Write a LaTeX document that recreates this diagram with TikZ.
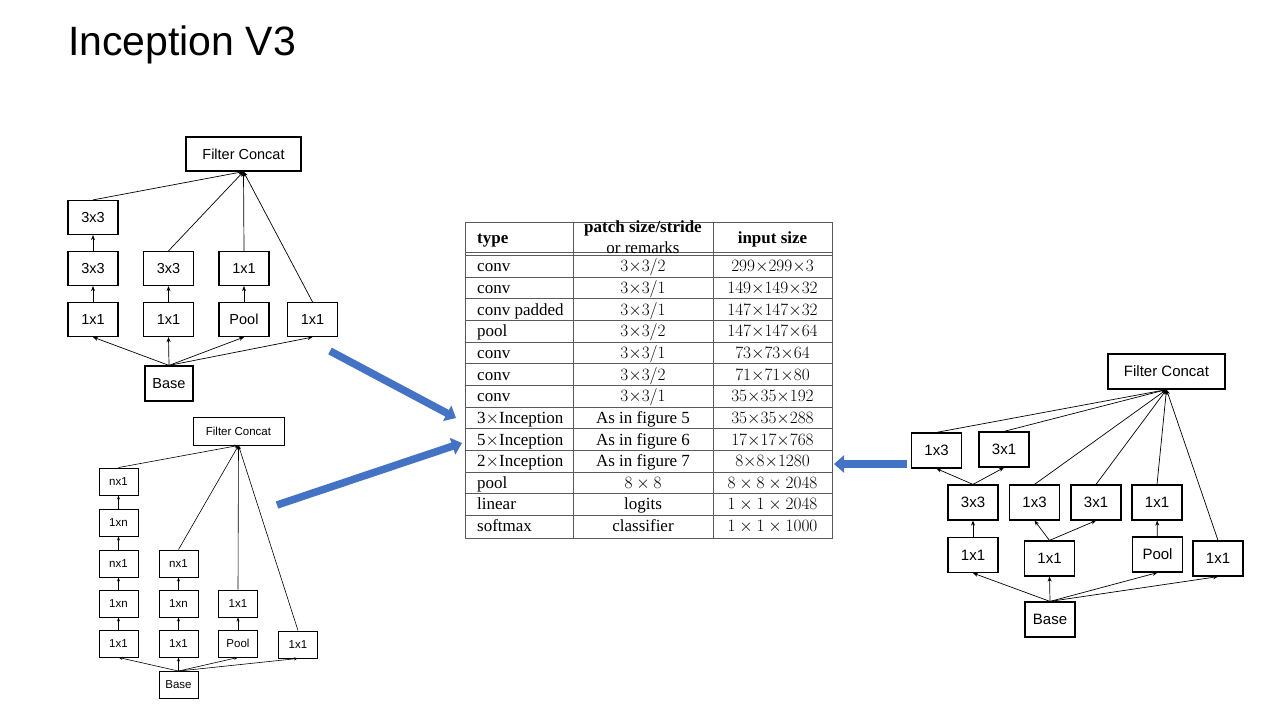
\documentclass[tikz,border=0pt]{standalone}
\usepackage{fontspec}
\setmainfont{Liberation Serif}
\setsansfont{Liberation Sans}
\usetikzlibrary{arrows.meta,positioning,calc}
\definecolor{slideblue}{HTML}{4472C4}
\definecolor{rulegray}{HTML}{5A5A5A}
\tikzset{unit/.style={draw,line width=1.2pt,fill=white,font=\sffamily\fontsize{14.5}{16}\selectfont,inner sep=0pt,minimum width=50,minimum height=34},unitsm/.style={unit,line width=0.9pt,font=\sffamily\fontsize{11.5}{13}\selectfont,minimum width=39,minimum height=27},link/.style={-{Stealth[length=5pt,width=4pt]},line width=0.7pt},linksm/.style={-{Stealth[length=4pt,width=3pt]},line width=0.6pt},bigarrow/.style={-{Triangle[length=10pt,width=17pt]},line width=7.5pt,draw=slideblue},cell/.style={font=\fontsize{17}{19}\selectfont,inner sep=0pt,text height=11.5pt,text depth=3.5pt},tabline/.style={draw=rulegray,line width=0.8pt}}

\begin{document}
\begin{tikzpicture}[x=1pt,y=-1pt]
\useasboundingbox[fill=white] (0,0) rectangle (1280,720);
\node[font=\sffamily\fontsize{41}{44}\selectfont,anchor=base west,inner sep=0pt] (title) at (68,55) {Inception V3};
% module of figure 5
\node[unit,minimum width=115] (Lfc) at (243.5,154) {Filter Concat};
\foreach \n/\xx/\yy/\lbl in {a3/93/217.5/3x3,a2/93/268.5/3x3,a1/93/319.5/1x1,b2/168.5/268.5/3x3,b1/168.5/319.5/1x1,c2/244/268.5/1x1,c1/244/319.5/Pool,d1/312.5/319.5/1x1}{\node[unit] (L\n) at (\xx,\yy) {\lbl};}
\node[unit,minimum width=48,minimum height=35] (Lbase) at (169,383.5) {Base};
\foreach \t in {a1,b1,c1,d1}{\draw[link] (Lbase.north) -- (L\t.south);}
\foreach \s/\t in {a1/a2,a2/a3,b1/b2,c1/c2}{\draw[link] (L\s) -- (L\t);}
\foreach \s in {a3,b2,c2,d1}{\draw[link] (L\s.north) -- (Lfc.south);}
% module of figure 6
\node[unitsm,minimum width=91,minimum height=28] (Mfc) at (238.5,431) {Filter Concat};
\foreach \n/\xx/\yy/\lbl in {p5/118.5/481.5/nx1,p4/118.5/522.5/1xn,p3/118.5/563.5/nx1,p2/118.5/603.5/1xn,p1/118.5/643.5/1x1,q3/178.5/563.5/nx1,q2/178.5/603.5/1xn,q1/178.5/643.5/1x1,r2/238/603.5/1x1,r1/238/643.5/Pool,s1/298/644.5/1x1}{\node[unitsm] (M\n) at (\xx,\yy) {\lbl};}
\node[unitsm] (Mbase) at (178.5,685) {Base};
\foreach \t in {p1,q1,r1,s1}{\draw[linksm] (Mbase.north) -- (M\t.south);}
\foreach \s/\t in {p1/p2,p2/p3,p3/p4,p4/p5,q1/q2,q2/q3,r1/r2}{\draw[linksm] (M\s) -- (M\t);}
\foreach \s in {p5,q3,r2,s1}{\draw[linksm] (M\s.north) -- (Mfc.south);}
% module of figure 7
\node[unit,minimum width=117,minimum height=35,font=\sffamily\fontsize{15}{17}\selectfont] (Rfc) at (1166.5,371.5) {Filter Concat};
\foreach \n/\xx/\yy/\lbl in {e1/936.5/450.5/1x3,e2/1004/449.5/3x1,m1/973/502.5/3x3,m2/1034.5/502.5/1x3,m3/1096/502.5/3x1,m4/1157/502.5/1x1,k1/973/555/1x1,k2/1049.5/558.5/1x1,k3/1157.5/554.5/Pool,k4/1218/558.5/1x1}{\node[unit,minimum height=35,font=\sffamily\fontsize{15}{17}\selectfont] (R\n) at (\xx,\yy) {\lbl};}
\node[unit,minimum height=35,font=\sffamily\fontsize{15}{17}\selectfont] (Rbase) at (1050,619.5) {Base};
\foreach \t in {k1,k2,k3,k4}{\draw[link] (Rbase.north) -- (R\t.south);}
\foreach \s/\t in {k1/m1,k3/m4}{\draw[link] (R\s) -- (R\t);}
\foreach \s/\t in {m1/e1,m1/e2,k2/m2,k2/m3}{\draw[link] (R\s.north) -- (R\t.south);}
\foreach \s in {e1,e2,m2,m3,m4,k4}{\draw[link] (R\s.north) -- (Rfc.south);}
% table
\draw[tabline] (465,222) rectangle (832,538);
\draw[tabline] (465,252.5) -- (832,252.5) (465,255.5) -- (832,255.5);
\foreach \i in {1,...,12}{\draw[tabline] (465,{255.5+21.65*\i}) -- (832,{255.5+21.65*\i});}
\draw[tabline] (573,222) -- (573,538) (713,222) -- (713,538);
\node[cell,anchor=west,font=\fontsize{17}{19}\selectfont\bfseries] (htype) at (477,239) {type};
\node[cell,font=\fontsize{17}{19}\selectfont\bfseries] (hpatch) at (643,228) {patch size/stride};
\node[cell] (hremark) at (643,249) {or remarks};
\node[cell,font=\fontsize{17}{19}\selectfont\bfseries] (hinput) at (772.5,239) {input size};
\foreach \typ/\pat/\inp [count=\i] in {conv/{$3{\times}3/2$}/{$299{\times}299{\times}3$},conv/{$3{\times}3/1$}/{$149{\times}149{\times}32$},conv padded/{$3{\times}3/1$}/{$147{\times}147{\times}32$},pool/{$3{\times}3/2$}/{$147{\times}147{\times}64$},conv/{$3{\times}3/1$}/{$73{\times}73{\times}64$},conv/{$3{\times}3/2$}/{$71{\times}71{\times}80$},conv/{$3{\times}3/1$}/{$35{\times}35{\times}192$},{3$\times$Inception}/As in figure 5/{$35{\times}35{\times}288$},{5$\times$Inception}/As in figure 6/{$17{\times}17{\times}768$},{2$\times$Inception}/As in figure 7/{$8{\times}8{\times}1280$},pool/{$8\times8$}/{$8\times8\times2048$},linear/logits/{$1\times1\times2048$},softmax/classifier/{$1\times1\times1000$}}{
\node[cell,anchor=west] (ty\i) at (477,{257+21.65*(\i-0.5)}) {\typ};
\node[cell] (pa\i) at (643,{257+21.65*(\i-0.5)}) {\pat};
\node[cell,font=\fontsize{17.5}{19}\selectfont] (in\i) at (772.5,{257+21.65*(\i-0.5)}) {\inp};}
% block arrows to the table
\coordinate (g1s) at (330,351); \coordinate (g1e) at (456,418);
\coordinate (g2s) at (277,505); \coordinate (g2e) at (462,443);
\coordinate (g3s) at (907,464); \coordinate (g3e) at (834,464);
\draw[bigarrow] (g1s) -- (g1e);
\draw[bigarrow] (g2s) -- (g2e);
\draw[bigarrow] (g3s) -- (g3e);
\end{tikzpicture}
\end{document}
